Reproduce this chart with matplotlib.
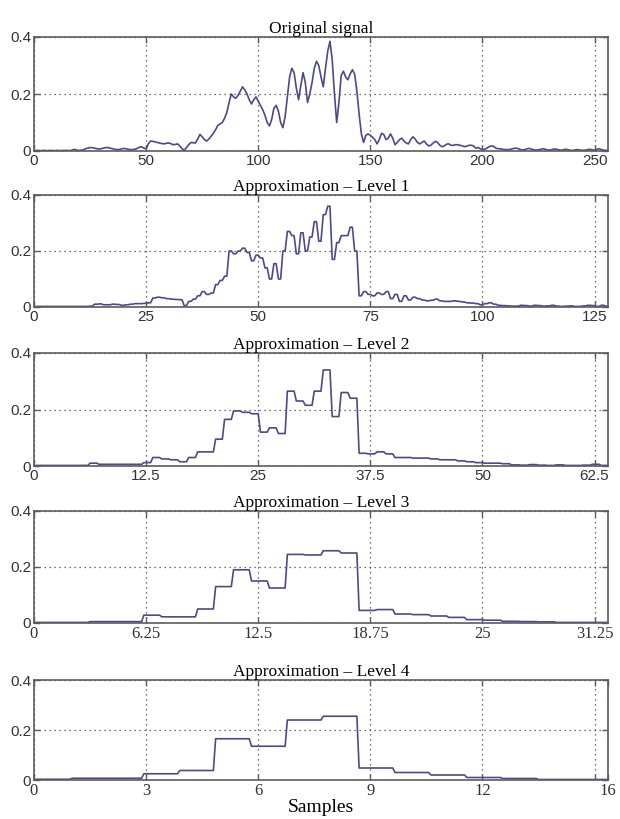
import numpy as np
import matplotlib
matplotlib.use("Agg")
import matplotlib.pyplot as plt

# values
original = [
    0.002, 0.002, 0.001, 0.002, 0.002, 0.001, 0.002, 0.002, 0.001, 0.002, 0.002, 0.001, 0.002, 0.002, 0.002, 0.001,
    0.003, 0.006, 0.003, 0.002, 0.003, 0.004, 0.008, 0.010, 0.012, 0.012, 0.010, 0.008, 0.007, 0.008, 0.010, 0.012,
    0.012, 0.010, 0.008, 0.006, 0.005, 0.005, 0.007, 0.009, 0.008, 0.006, 0.005, 0.005, 0.006, 0.009, 0.013, 0.015,
    0.010, 0.008, 0.025, 0.035, 0.034, 0.032, 0.030, 0.028, 0.026, 0.025, 0.027, 0.028, 0.026, 0.022, 0.023, 0.025,
    0.018, 0.008, 0.003, 0.012, 0.022, 0.030, 0.029, 0.028, 0.042, 0.058, 0.050, 0.040, 0.035, 0.042, 0.052, 0.062,
    0.075, 0.090, 0.095, 0.100, 0.115, 0.135, 0.170, 0.200, 0.190, 0.185, 0.195, 0.210, 0.225, 0.215, 0.200, 0.180,
    0.165, 0.180, 0.190, 0.175, 0.160, 0.145, 0.125, 0.100, 0.088, 0.110, 0.150, 0.160, 0.140, 0.100, 0.082, 0.120,
    0.190, 0.260, 0.290, 0.275, 0.220, 0.180, 0.230, 0.275, 0.240, 0.170, 0.200, 0.240, 0.290, 0.315, 0.300, 0.260,
    0.225, 0.290, 0.350, 0.385, 0.320, 0.200, 0.100, 0.170, 0.265, 0.280, 0.260, 0.250, 0.270, 0.285, 0.270, 0.210,
    0.130, 0.060, 0.030, 0.055, 0.060, 0.055, 0.048, 0.040, 0.025, 0.040, 0.062, 0.058, 0.040, 0.045, 0.060, 0.045,
    0.022, 0.030, 0.040, 0.045, 0.035, 0.028, 0.025, 0.040, 0.050, 0.042, 0.030, 0.025, 0.030, 0.035, 0.025, 0.018,
    0.020, 0.028, 0.034, 0.030, 0.020, 0.015, 0.018, 0.024, 0.025, 0.020, 0.020, 0.022, 0.022, 0.020, 0.018, 0.015,
    0.017, 0.020, 0.020, 0.018, 0.010, 0.012, 0.008, 0.005, 0.006, 0.010, 0.015, 0.018, 0.016, 0.010, 0.008, 0.008,
    0.006, 0.005, 0.005, 0.005, 0.007, 0.009, 0.010, 0.008, 0.005, 0.004, 0.005, 0.008, 0.009, 0.006, 0.004, 0.003,
    0.004, 0.006, 0.008, 0.006, 0.004, 0.003, 0.005, 0.007, 0.006, 0.004, 0.003, 0.004, 0.006, 0.005, 0.003, 0.002,
    0.003, 0.005, 0.004, 0.003, 0.002, 0.003, 0.005, 0.006, 0.004, 0.003, 0.006, 0.008, 0.005, 0.003, 0.002, 0.002,
]

level1 = [
    0.002, 0.002, 0.002, 0.002, 0.002, 0.002, 0.002, 0.002, 0.002, 0.002, 0.002, 0.002, 0.003, 0.010, 0.011, 0.008,
    0.008, 0.010, 0.009, 0.006, 0.008, 0.010, 0.012, 0.012, 0.013, 0.015, 0.032, 0.035, 0.033, 0.030, 0.028, 0.027,
    0.026, 0.005, 0.020, 0.028, 0.040, 0.055, 0.045, 0.050, 0.080, 0.095, 0.110, 0.200, 0.190, 0.200, 0.210, 0.195,
    0.165, 0.185, 0.175, 0.140, 0.100, 0.155, 0.100, 0.200, 0.270, 0.255, 0.190, 0.265, 0.200, 0.250, 0.305, 0.235,
    0.330, 0.360, 0.170, 0.230, 0.255, 0.255, 0.285, 0.200, 0.040, 0.055, 0.045, 0.040, 0.050, 0.045, 0.055, 0.030,
    0.045, 0.020, 0.040, 0.025, 0.035, 0.030, 0.025, 0.022, 0.024, 0.028, 0.022, 0.020, 0.020, 0.022, 0.020, 0.018,
    0.015, 0.014, 0.012, 0.008, 0.012, 0.015, 0.010, 0.006, 0.005, 0.004, 0.003, 0.003, 0.006, 0.005, 0.003, 0.006,
    0.005, 0.003, 0.004, 0.006, 0.003, 0.002, 0.003, 0.004, 0.002, 0.002, 0.004, 0.006, 0.005, 0.002, 0.006, 0.003,
]

level2 = [
    0.002, 0.002, 0.002, 0.002, 0.002, 0.002, 0.010, 0.006, 0.006, 0.006, 0.006, 0.006, 0.012, 0.030, 0.025, 0.022,
    0.015, 0.030, 0.050, 0.050, 0.095, 0.165, 0.195, 0.190, 0.185, 0.120, 0.135, 0.115, 0.265, 0.230, 0.215, 0.265,
    0.340, 0.175, 0.260, 0.240, 0.045, 0.043, 0.050, 0.043, 0.030, 0.030, 0.028, 0.028, 0.025, 0.022, 0.022, 0.018,
    0.015, 0.012, 0.010, 0.010, 0.008, 0.004, 0.003, 0.005, 0.003, 0.002, 0.004, 0.002, 0.002, 0.003, 0.006, 0.002,
]

level3 = [
    0.002, 0.002, 0.002, 0.005, 0.005, 0.005, 0.028, 0.022, 0.022, 0.050, 0.130, 0.190, 0.150, 0.125, 0.245, 0.243,
    0.258, 0.250, 0.045, 0.048, 0.032, 0.030, 0.025, 0.020, 0.012, 0.010, 0.006, 0.005, 0.004, 0.002, 0.002, 0.002,
]

level4 = [0.003, 0.007, 0.007, 0.025, 0.038, 0.165, 0.135, 0.240, 0.255, 0.048, 0.030, 0.020, 0.010, 0.006, 0.002, 0.002]

titles = ["Original signal", "Approximation \u2013 Level 1", "Approximation \u2013 Level 2",
          "Approximation \u2013 Level 3", "Approximation \u2013 Level 4"]
xticks = [
    [0, 50, 100, 150, 200, 250],
    [0, 25, 50, 75, 100, 125],
    [0, 12.5, 25, 37.5, 50, 62.5],
    [0, 6.25, 12.5, 18.75, 25, 31.25],
    [0, 3.125, 6.25, 9.375, 12.5, 15.625, 16],
]
xlabels = [
    ["0", "50", "100", "150", "200", "250"],
    ["0", "25", "50", "75", "100", "125"],
    ["0", "12.5", "25", "37.5", "50", "62.5"],
    ["0", "6.25", "12.5", "18.75", "25", "31.25"],
    ["0", "3", "6", "9", "12", "", "16"],
]
xlims = [256, 128, 64, 32, 16]

W, H = 620, 819
# (top, bottom) of each axes box in pixels
boxes = [(37, 151), (195, 307), (353, 466), (511, 623), (680, 780)]
line_color = "#4a4a8c"
frame_color = "#5c5c5c"

fig = plt.figure(figsize=(W / 100, H / 100), dpi=100)
series = [original, level1, level2, level3, level4]

for i, (top, bot) in enumerate(boxes):
    ax = fig.add_axes([34 / W, 1 - bot / H, 574 / W, (bot - top) / H])
    vals = np.array(series[i])
    # each approximation is held over 2**i original samples, drawn as one line
    rep = 2 ** i
    y = np.repeat(vals, rep)
    x = np.arange(1, len(y) + 1) / rep
    ax.plot(x, y, color=line_color, lw=1.2)
    ax.set_xlim(0, xlims[i])
    ax.set_ylim(0, 0.4)
    ax.set_yticks([0, 0.2, 0.4])
    ax.set_yticklabels(["0", "0.2", "0.4"], family="Liberation Sans", fontsize=11, color="#333333")
    ax.set_xticks(xticks[i])
    xfam = "Liberation Sans" if i < 3 else "Liberation Serif"
    ax.set_xticklabels(xlabels[i], family=xfam, fontsize=11 if i < 3 else 12, color="#333333")
    ax.grid(True, linestyle=(0, (1, 3)), color="#444444", lw=0.9)
    ax.tick_params(direction="in", length=4, width=1, color=frame_color, top=True, right=True, pad=2)
    for s in ax.spines.values():
        s.set_color(frame_color)
        s.set_linewidth(1.2)
    ax.set_title(titles[i], family="Liberation Serif", fontsize=12.5, pad=3)
    if i == 4:
        ax.set_xlabel("Samples", family="Liberation Serif", fontsize=14, labelpad=0)

fig.savefig("out.png", dpi=100)
